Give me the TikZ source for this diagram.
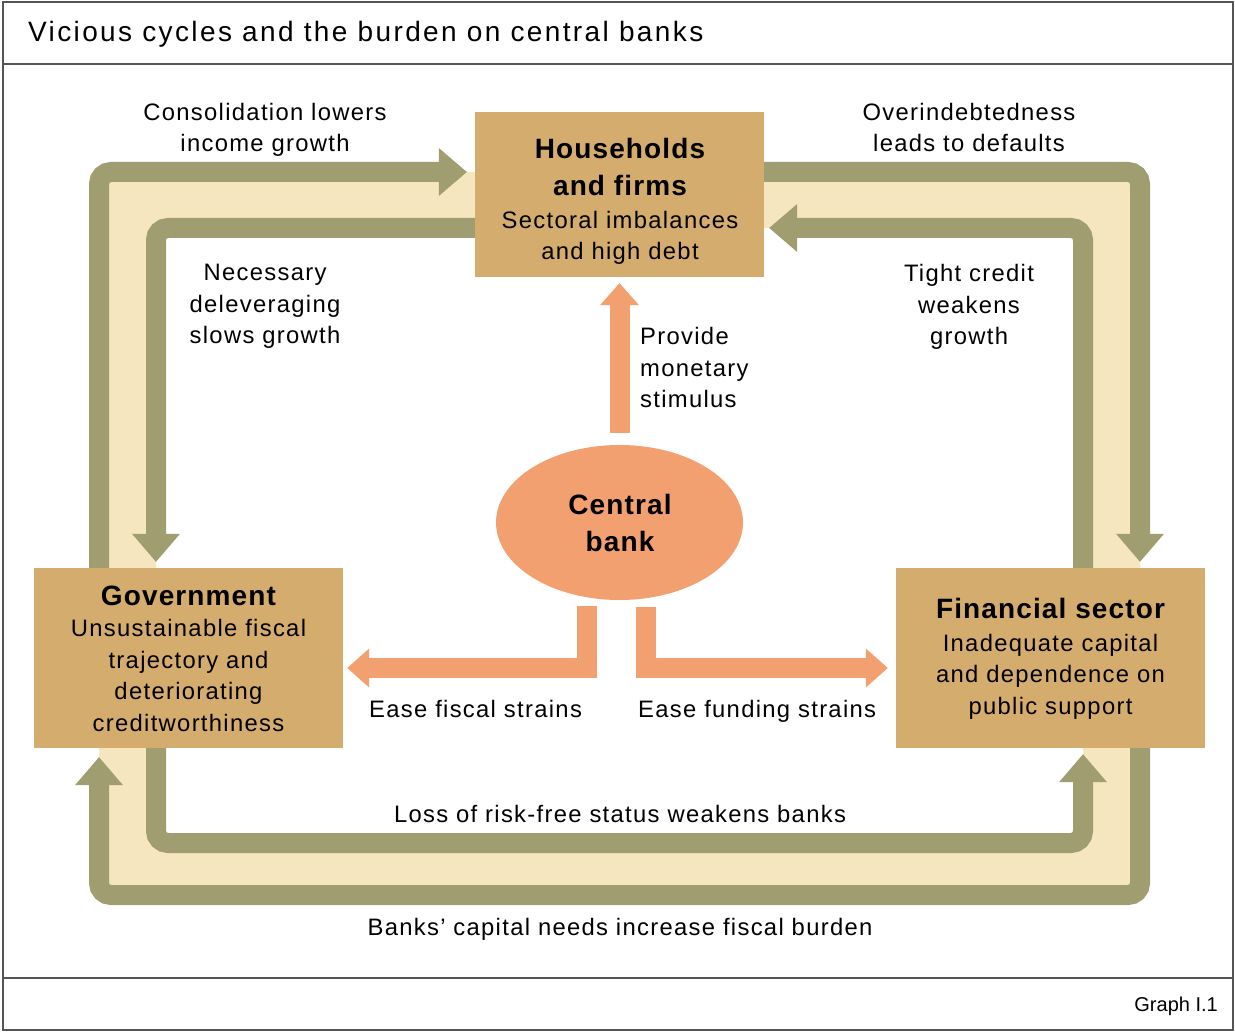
\documentclass[tikz,border=0pt]{standalone}
\usepackage{fontspec}
\setmainfont{Liberation Sans}
\newfontfamily\bodyfont[LetterSpace=5.5]{Liberation Sans}
\newfontfamily\headfont[LetterSpace=4]{Liberation Sans}
\newfontfamily\titlefont[LetterSpace=8.5]{Liberation Sans}
\usetikzlibrary{arrows.meta,shapes.geometric}
\definecolor{tanbox}{RGB}{212,172,110}
\definecolor{olivec}{RGB}{160,158,112}
\definecolor{creamc}{RGB}{245,230,192}
\definecolor{orangec}{RGB}{243,160,112}
\definecolor{framec}{RGB}{85,85,85}
\begin{document}
\begin{tikzpicture}[x=1pt,y=-1pt,
  box/.style={fill=tanbox, draw=none, inner sep=0pt, minimum width=309pt, minimum height=180pt},
  bodytxt/.style={font=\bodyfont\fontsize{23.8}{31.5}\selectfont, align=center, inner sep=0pt},
  headtxt/.style={font=\headfont\bfseries\fontsize{28}{37}\selectfont, align=center, inner sep=0pt},
  oline/.style={draw=olivec, line width=20pt, rounded corners=12pt, -{Triangle[width=48pt,length=28pt,line width=0pt]}},
  oarrow/.style={draw=orangec, line width=20pt, line join=miter, -{Triangle[width=39pt,length=22pt,line width=0pt]}},
  frameline/.style={draw=framec, line width=2pt}
]
\useasboundingbox (0,0) rectangle (1235,1032);
% frame
\draw[frameline] (3,2) rectangle (1233,1030);
\draw[frameline] (3,64) -- (1233,64);
\draw[frameline] (3,978) -- (1233,978);
\node[anchor=base west, inner sep=0pt, font=\titlefont\fontsize{28}{32}\selectfont] (title) at (28,42) {Vicious cycles and the burden on central banks};
\node[anchor=base east, inner sep=0pt, font=\fontsize{20}{24}\selectfont] (graph) at (1218,1011) {Graph I.1};
% coordinates of the loops
\coordinate (oL) at (99,0);
\coordinate (oR) at (1140,0);
\coordinate (oT) at (0,172);
\coordinate (oB) at (0,895);
\coordinate (iL) at (156,0);
\coordinate (iR) at (1083,0);
\coordinate (iT) at (0,228);
\coordinate (iB) at (0,843);
\coordinate (fl) at (587,0);
\coordinate (fr) at (646,0);
\coordinate (fy) at (0,668);
% cream band
\fill[creamc, even odd rule, rounded corners=12pt] (99,172) rectangle (1140,895) (156,228) rectangle (1083,843);
% boxes
\node[box, minimum width=289pt, minimum height=165pt] (hh) at (619.5,194.5) {};
\node[box] (gov) at (188.5,658) {};
\node[box] (fin) at (1050.5,658) {};
\node[ellipse, fill=orangec, inner sep=0pt, minimum width=247pt, minimum height=155pt] (cb) at (619.5,522.5) {};
% olive connectors
\draw[oline, shorten >=8pt] (gov.north -| oL) -- (oL |- oT) -- (hh.west |- oT);
\draw[oline, shorten >=6pt] (hh.east |- oT) -- (oR |- oT) -- (fin.north -| oR);
\draw[oline, shorten >=9pt] (fin.south -| oR) -- (oR |- oB) -- (oL |- oB) -- (gov.south -| oL);
\draw[oline, shorten >=6pt] (hh.west |- iT) -- (iL |- iT) -- (gov.north -| iL);
\draw[oline, shorten >=6pt] (gov.south -| iL) -- (iL |- iB) -- (iR |- iB) -- (fin.south -| iR);
\draw[oline, shorten >=5pt] (fin.north -| iR) -- (iR |- iT) -- (hh.east |- iT);
% orange connectors
\draw[oarrow, shorten <=12pt, shorten >=6pt] (cb.north) -- (hh.south);
\draw[oarrow, shorten <=6pt, shorten >=4pt] (cb.south -| fl) -- (fl |- fy) -- (gov.east |- fy);
\draw[oarrow, shorten <=7pt, shorten >=8pt] (cb.south -| fr) -- (fr |- fy) -- (fin.west |- fy);
% box texts (anchor = baseline of last line)
\node[headtxt, anchor=base] (hhA) at (620,196) {Households\\and firms};
\node[bodytxt, anchor=base] (hhB) at (620,260) {Sectoral imbalances\\and high debt};
\node[headtxt, anchor=base] (govA) at (188.5,605) {Government};
\node[bodytxt, anchor=base] (govB) at (188.5,731) {Unsustainable fiscal\\trajectory and\\deteriorating\\creditworthiness};
\node[headtxt, anchor=base] (finA) at (1050.5,618) {Financial sector};
\node[bodytxt, anchor=base] (finB) at (1050.5,714) {Inadequate capital\\and dependence on\\public support};
\node[headtxt, anchor=base] (cbT) at (620,551) {Central\\bank};
% labels
\node[bodytxt, anchor=base] (l1) at (265,152) {Consolidation lowers\\income growth};
\node[bodytxt, anchor=base] (l2) at (969,152) {Overindebtedness\\leads to defaults};
\node[bodytxt, anchor=base] (l3) at (265,344) {Necessary\\deleveraging\\slows growth};
\node[bodytxt, anchor=base] (l4) at (969,345) {Tight credit\\weakens\\growth};
\node[bodytxt, anchor=base west, align=left] (l5) at (640,408) {Provide\\monetary\\stimulus};
\node[bodytxt, anchor=base west] (l6) at (369,717) {Ease fiscal strains};
\node[bodytxt, anchor=base west] (l7) at (638,717) {Ease funding strains};
\node[bodytxt, anchor=base] (l8) at (620,822) {Loss of risk-free status weakens banks};
\node[bodytxt, anchor=base] (l9) at (620,935) {Banks’ capital needs increase fiscal burden};
\end{tikzpicture}
\end{document}
